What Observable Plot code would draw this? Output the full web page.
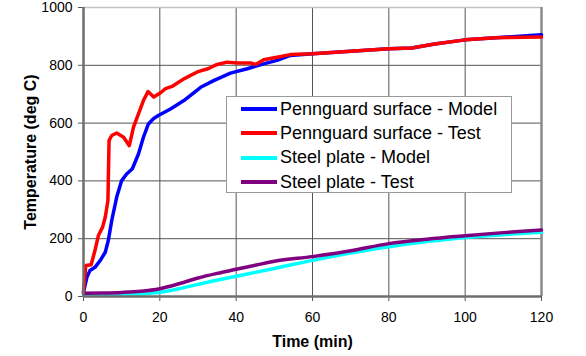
<!DOCTYPE html>
<html>
<head>
<meta charset="utf-8">
<script src="https://cdn.jsdelivr.net/npm/d3@7"></script>
<script src="https://cdn.jsdelivr.net/npm/@observablehq/plot@0.6"></script>
<style>
  html, body { margin: 0; padding: 0; background: #fff; }
  #wrap { position: relative; width: 586px; height: 356px; font-family: "Liberation Sans", Arial, sans-serif; }
  #legend { position: absolute; left: 226px; top: 96px; width: 284px; height: 95px; background: #fff; border: 1px solid #9a9a9a; }
  #legend .row { display: flex; align-items: center; height: 24.3px; font-size: 18px; color: #000; white-space: nowrap; }
  #legend .sw { width: 36px; height: 4px; margin-left: 14px; margin-right: 3px; }
</style>
</head>
<body>
<div id="wrap"><div id="legend"></div></div>
<script>
// Series names and colours
const seriesNames = ["Pennguard surface - Model", "Pennguard surface - Test", "Steel plate - Model", "Steel plate - Test"];
const seriesColors = ["#0000ff", "#ff0000", "#00ffff", "#800080"];

// Pennguard surface - Model
const pgModelTime = [0, 0.9, 1.7, 3, 4.4, 5.7, 6.5, 7.4, 8.7, 10, 11.3, 12.8, 14.4, 15.7, 17, 18.3, 19.6, 22.8, 26.3, 30.7, 34.1, 38.5, 42.9, 47.2, 50.7, 54.2, 60, 69, 80, 86, 92, 100, 108, 120];
const pgModelTemp = [15, 67, 90, 101, 125, 153, 194, 263, 344, 401, 424, 442, 493, 551, 597, 615, 626, 649, 678, 724, 747, 773, 788, 805, 817, 834, 840, 848, 857, 860, 874, 888, 895, 906];

// Pennguard surface - Test
const pgTestTime = [0, 0.6, 2.0, 3.0, 3.9, 5.0, 5.7, 6.4, 6.7, 7.4, 8.7, 10.5, 12.0, 13.1, 14.4, 15.7, 16.9, 18.4, 20.2, 21.5, 23.2, 25, 26.3, 29.8, 32.8, 35, 37.6, 40.3, 43.8, 45.1, 47.2, 50.7, 54.2, 60, 69, 80, 86, 92, 100, 108, 120];
const pgTestTemp = [15, 107, 110, 159, 211, 240, 274, 332, 540, 557, 566, 551, 522, 586, 632, 678, 709, 690, 705, 719, 727, 742, 753, 777, 789, 803, 811, 808, 808, 803, 819, 828, 837, 840, 848, 857, 860, 874, 888, 895, 898];

// Steel plate - Model
const spModelTime = [0, 5, 10, 15, 20, 25, 30, 40, 50, 60, 70, 80, 90, 100, 110, 120];
const spModelTemp = [5, 5, 6, 9, 15, 27, 42, 70, 97, 125, 150, 172, 190, 204, 214, 222];

// Steel plate - Test
const spTestTime = [0, 5, 10, 15, 20, 25, 30, 35, 40, 45, 50, 60, 70, 80, 90, 100, 110, 120];
const spTestTemp = [11, 12, 14, 18, 27, 44, 64, 80, 94, 108, 122, 138, 158, 183, 198, 210, 221, 230];

// Axis ticks
const xTicks = [0, 20, 40, 60, 80, 100, 120];
const yTicks = [0, 200, 400, 600, 800, 1000];

const toRows = (ts, vs, s) => ts.map((t, i) => ({time: t, temp: vs[i], series: s}));
const pgModel = toRows(pgModelTime, pgModelTemp, seriesNames[0]);
const pgTest = toRows(pgTestTime, pgTestTemp, seriesNames[1]);
const spModel = toRows(spModelTime, spModelTemp, seriesNames[2]);
const spTest = toRows(spTestTime, spTestTemp, seriesNames[3]);

const chart = Plot.plot({
  width: 586,
  height: 356,
  marginLeft: 83,
  marginRight: 45,
  marginTop: 7,
  marginBottom: 60,
  style: { fontFamily: "Liberation Sans, Arial, sans-serif", fontSize: "14px", background: "#fff", color: "#000" },
  x: { domain: [0, 120] },
  y: { domain: [0, 1000] },
  marks: [
    Plot.gridX(xTicks, { stroke: "#555", strokeOpacity: 1, strokeWidth: 1 }),
    Plot.gridY(yTicks, { stroke: "#555", strokeOpacity: 1, strokeWidth: 1 }),
    Plot.ruleY([1000], { stroke: "#c4c4c4", strokeWidth: 1.5 }),
    Plot.ruleX([120], { stroke: "#8a8a8a", strokeWidth: 2.5 }),
    Plot.axisX({ ticks: xTicks, tickSize: 5, tickPadding: 11, tickFormat: d => String(d), stroke: "#555", fill: "#000", fontSize: 14, label: null }),
    Plot.axisY({ ticks: yTicks, tickSize: 5, tickPadding: 6, tickFormat: d => String(d), stroke: "#555", fill: "#000", fontSize: 14, label: null }),
    Plot.line(spModel, { x: "time", y: "temp", stroke: seriesColors[2], strokeWidth: 3.5, curve: "monotone-x" }),
    Plot.line(spTest, { x: "time", y: "temp", stroke: seriesColors[3], strokeWidth: 3.5, curve: "monotone-x" }),
    Plot.line(pgModel, { x: "time", y: "temp", stroke: seriesColors[0], strokeWidth: 3.5 }),
    Plot.line(pgTest, { x: "time", y: "temp", stroke: seriesColors[1], strokeWidth: 3.5 }),
    Plot.ruleX([0], { stroke: "#6e6e6e", strokeWidth: 2.5 }),
    Plot.ruleY([0], { stroke: "#6e6e6e", strokeWidth: 2.5 }),
    Plot.text(["Time (min)"], { frameAnchor: "bottom", dy: 50, lineAnchor: "bottom", textAnchor: "middle", fontSize: 16, fontWeight: "bold", fill: "#000" }),
    Plot.text(["Temperature (deg C)"], { frameAnchor: "left", rotate: -90, dx: -48, lineAnchor: "bottom", textAnchor: "middle", fontSize: 16, fontWeight: "bold", fill: "#000" })
  ]
});

const wrap = document.getElementById("wrap");
wrap.insertBefore(chart, wrap.firstChild);

const legend = document.getElementById("legend");
seriesNames.forEach((name, i) => {
  const row = document.createElement("div");
  row.className = "row";
  const sw = document.createElement("div");
  sw.className = "sw";
  sw.style.background = seriesColors[i];
  const label = document.createElement("span");
  label.textContent = name;
  row.appendChild(sw);
  row.appendChild(label);
  legend.appendChild(row);
});
</script>
</body>
</html>
